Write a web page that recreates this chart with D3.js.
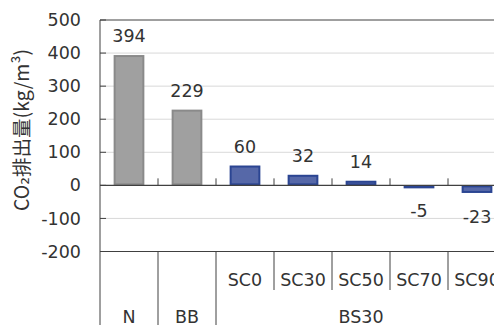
<!DOCTYPE html>
<html>
<head>
<meta charset="utf-8">
<script src="https://cdn.jsdelivr.net/npm/d3@7/dist/d3.min.js"></script>
<style>
  html, body { margin: 0; padding: 0; background: #fff; }
  svg { display: block; }
  text { font-family: "DejaVu Sans", Verdana, sans-serif; fill: #333; }
</style>
</head>
<body>
<svg id="chart" width="494" height="325"></svg>
<script>
// CO2 emission per cubic metre of concrete, by mix
const categories = ["N", "BB", "SC0", "SC30", "SC50", "SC70", "SC90"];
const values = [394, 229, 60, 32, 14, -5, -23];
const seriesKind = ["base", "base", "bs", "bs", "bs", "bs", "bs"];
const yTicks = [500, 400, 300, 200, 100, 0, -100, -200];
const groupLabel = "BS30";
const groupMembers = ["SC0", "SC30", "SC50", "SC70", "SC90"];
const yTitle = "CO\u2082排出量(kg/m\u00B3)";

(function () {
const svg = d3.select("#chart");
const plotL = 100, plotR = 506, plotT = 20, plotB = 251.5, svgH = 325;

const x = d3.scaleBand().domain(categories).range([plotL, plotR])
  .paddingInner(0.47).paddingOuter(0.235);
const y = d3.scaleLinear().domain([-200, 500]).range([plotB, plotT]);

const fills = { base: "#a0a0a0", bs: "#5668a8" };
const strokes = { base: "#8a8a8a", bs: "#2b4592" };
const lineCol = "#404040";
const fs = "17.5px";

// horizontal gridlines
svg.append("g").selectAll("line")
  .data(yTicks.filter(t => t !== 0 && t !== -200 && t !== 500))
  .join("line")
  .attr("x1", plotL).attr("x2", plotR)
  .attr("y1", d => y(d)).attr("y2", d => y(d))
  .attr("stroke", "#d9d9d9").attr("stroke-width", 1);

// plot border (top)
svg.append("line").attr("x1", plotL).attr("x2", plotR)
  .attr("y1", y(500)).attr("y2", y(500)).attr("stroke", lineCol);

// y axis with inward ticks; plain hyphen for negatives
const yAxis = d3.axisLeft(y).tickValues(yTicks).tickSize(0).tickPadding(19)
  .tickFormat(d => String(d));
const gy = svg.append("g").attr("transform", `translate(${plotL},0)`).call(yAxis);
gy.select(".domain").remove();
gy.selectAll("text").style("font-size", fs).attr("fill", "#333")
  .attr("font-family", "DejaVu Sans, Verdana, sans-serif");
svg.append("g").selectAll("line").data(yTicks).join("line")
  .attr("x1", plotL).attr("x2", plotL + 6)
  .attr("y1", d => y(d)).attr("y2", d => y(d))
  .attr("stroke", lineCol);

// bars
svg.append("g").selectAll("rect")
  .data(categories.map((c, i) => ({ c, v: values[i], k: seriesKind[i] })))
  .join("rect")
  .attr("x", d => x(d.c) + 1)
  .attr("width", x.bandwidth() - 2)
  .attr("y", d => Math.min(y(d.v), y(0)) + 1)
  .attr("height", d => Math.max(Math.abs(y(d.v) - y(0)) - 2, 1))
  .attr("fill", d => fills[d.k])
  .attr("stroke", d => strokes[d.k])
  .attr("stroke-width", 2);

// zero baseline with upward category ticks
svg.append("line").attr("x1", plotL).attr("x2", plotR)
  .attr("y1", y(0)).attr("y2", y(0)).attr("stroke", lineCol).attr("stroke-width", 1.2);
const boundaries = categories.slice(1).map(c => x(c) - x.step() * x.paddingInner() / 2);
svg.append("g").selectAll("line").data(boundaries).join("line")
  .attr("x1", d => d).attr("x2", d => d)
  .attr("y1", y(0) - 7).attr("y2", y(0))
  .attr("stroke", lineCol);

// value labels
svg.append("g").selectAll("text")
  .data(categories.map((c, i) => ({ c, v: values[i] })))
  .join("text")
  .attr("x", d => x(d.c) + x.bandwidth() / 2)
  .attr("y", d => d.v >= 0 ? y(d.v) - 13 : y(d.v) + 30)
  .attr("text-anchor", "middle")
  .style("font-size", fs)
  .text(d => String(d.v));

// bottom axis and category table
svg.append("line").attr("x1", plotL).attr("x2", plotR)
  .attr("y1", plotB).attr("y2", plotB).attr("stroke", lineCol);
svg.append("line").attr("x1", plotL).attr("x2", plotL)
  .attr("y1", plotT).attr("y2", svgH).attr("stroke", lineCol);
svg.append("g").selectAll("line").data(boundaries.concat([plotR])).join("line")
  .attr("x1", d => d).attr("x2", d => d)
  .attr("y1", plotB)
  .attr("y2", (d, i) => i < 2 ? svgH : 290)
  .attr("stroke", lineCol);

const cx = c => x(c) + x.bandwidth() / 2;
svg.append("g").selectAll("text").data(categories).join("text")
  .attr("x", d => cx(d))
  .attr("y", d => groupMembers.includes(d) ? 280 : 317)
  .attr("dy", "0.35em")
  .attr("text-anchor", "middle")
  .style("font-size", fs)
  .text(d => d);

const gx0 = x(groupMembers[0]) - x.step() * x.paddingInner() / 2;
svg.append("text")
  .attr("x", (gx0 + plotR) / 2)
  .attr("y", 317).attr("dy", "0.35em")
  .attr("text-anchor", "middle")
  .style("font-size", fs)
  .text(groupLabel);

// y axis title
svg.append("text")
  .attr("transform", "translate(22,130) rotate(-90)")
  .attr("text-anchor", "middle").attr("dy", "0.35em")
  .style("font-family", "'Noto Sans CJK JP', 'DejaVu Sans', sans-serif")
  .style("font-size", "19.5px")
  .text(yTitle);
})();
</script>
</body>
</html>
